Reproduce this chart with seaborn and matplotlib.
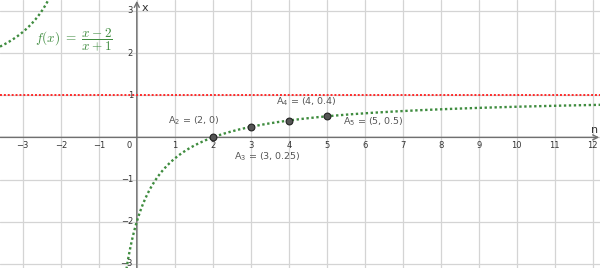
import numpy as np
import pandas as pd
import matplotlib
matplotlib.use("Agg")
import matplotlib.pyplot as plt
import seaborn as sns

# ---- data ----
point_names = ["A_2", "A_3", "A_4", "A_5"]
point_x = [2, 3, 4, 5]
point_y = [0, 0.25, 0.4, 0.5]
point_labels = ["(2, 0)", "(3, 0.25)", "(4, 0.4)", "(5, 0.5)"]
asymptote_y = 1
x_ticks = [-3, -2, -1, 1, 2, 3, 4, 5, 6, 7, 8, 9, 10, 11, 12]
y_ticks = [-3, -2, -1, 1, 2, 3]

XMIN, XMAX = -3.6, 12.19
YMIN, YMAX = -3.10, 3.26


def f(x):
    return (x - 2) / (x + 1)


sns.set_theme(style="white")
plt.rcParams["font.family"] = ["DejaVu Sans"]
plt.rcParams["mathtext.fontset"] = "cm"

fig = plt.figure(figsize=(6.0, 2.68), dpi=100)
ax = fig.add_axes([0, 0, 1, 1])
ax.set_xlim(XMIN, XMAX)
ax.set_ylim(YMIN, YMAX)
for s in ax.spines.values():
    s.set_visible(False)
ax.set_xticks([])
ax.set_yticks([])

# grid
for gx in range(-3, 13):
    ax.axvline(gx, color="#d4d4d4", lw=0.9, zorder=0)
for gy in range(-3, 4):
    ax.axhline(gy, color="#d4d4d4", lw=0.9, zorder=0)

# axes with arrows
axis_col = "#707070"
ax.annotate("", xy=(XMAX - 0.02, 0), xytext=(XMIN, 0),
            arrowprops=dict(arrowstyle="->", color=axis_col, lw=1.0,
                            shrinkA=0, shrinkB=0, mutation_scale=9), zorder=1)
ax.annotate("", xy=(0, YMAX - 0.02), xytext=(0, YMIN),
            arrowprops=dict(arrowstyle="->", color=axis_col, lw=1.0,
                            shrinkA=0, shrinkB=0, mutation_scale=9), zorder=1)

# tick labels
for t in x_ticks:
    ax.text(t, -0.09, str(t).replace("-", "\u2212"), ha="center", va="top",
            fontsize=6, color="#333333")
ax.text(-0.12, -0.09, "0", ha="right", va="top", fontsize=6, color="#333333")
for t in y_ticks:
    ax.text(-0.1, t, str(t).replace("-", "\u2212"), ha="right", va="center",
            fontsize=6, color="#333333")
ax.text(0.12, 3.18, "x", ha="left", va="top", fontsize=8, color="#333333")
ax.text(12.15, 0.06, "n", ha="right", va="bottom", fontsize=8, color="#333333")

# function branches
green = "#3f8c3f"
xl = np.linspace(XMIN, -1.2, 400)
xr = np.linspace(-0.4, XMAX, 800)
left = pd.DataFrame({"x": xl, "y": f(xl)})
left = left[left["y"] <= YMAX + 0.2]
right = pd.DataFrame({"x": xr, "y": f(xr)})
right = right[right["y"] >= YMIN - 0.2]
for d in (left, right):
    sns.lineplot(data=d, x="x", y="y", ax=ax, color=green, lw=1.7,
                 linestyle=(0, (1, 1.1)), sort=False, zorder=3)

# asymptote
ax.axhline(asymptote_y, color="#ff2a2a", lw=1.4, linestyle=(0, (1, 1)), zorder=2)

# points
pts = pd.DataFrame({"x": point_x, "y": point_y})
sns.scatterplot(data=pts, x="x", y="y", ax=ax, s=24, color="#555555",
                edgecolor="#222222", linewidth=0.8, zorder=5)

# point labels
label_offsets = [(-1.18, 0.39), (-0.44, -0.72), (-0.34, 0.44), (0.43, -0.14)]
for name, px, py, lab, (dx, dy) in zip(point_names, point_x, point_y,
                                       point_labels, label_offsets):
    ax.text(px + dx, py + dy,
            "$\\mathregular{" + name.replace("_", "_{") + "}}$ = " + lab,
            ha="left", va="center", fontsize=6.8, color="#555555", zorder=6)

ax.set_xlabel("")
ax.set_ylabel("")

# formula
ax.text(-2.68, 2.32, r"$f(x)\ =\ \dfrac{x-2}{x+1}$", ha="left", va="center",
        fontsize=9.5, color=green)

fig.savefig("out.png", dpi=100)
